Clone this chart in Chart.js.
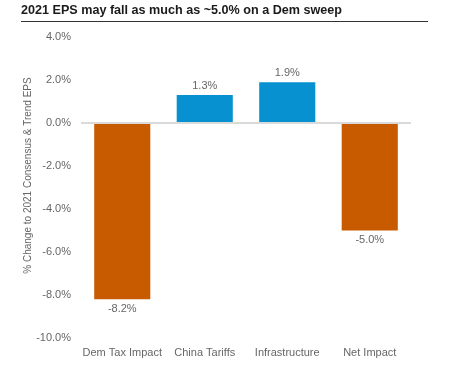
<!DOCTYPE html>
<html>
<head>
<meta charset="utf-8">
<script src="https://cdn.jsdelivr.net/npm/chart.js@4/dist/chart.umd.min.js"></script>
<style>
  html, body { margin: 0; padding: 0; background: #fff; }
  #wrap { position: relative; width: 449px; height: 370px; overflow: hidden; }
  #title {
    position: absolute; left: 21px; top: 2px; width: 407px;
    font-family: "Liberation Sans", Arial, sans-serif; font-weight: bold; font-size: 12.6px;
    color: #1a1a1a; line-height: 17px; padding-bottom: 2px; border-bottom: 1px solid #333;
    white-space: nowrap;
  }
  canvas { position: absolute; left: 0; top: 0; }
</style>
</head>
<body>
<div id="wrap">
  <canvas id="c" width="449" height="370"></canvas>
  <div id="title">2021 EPS may fall as much as ~5.0% on a Dem sweep</div>
</div>
<script>
const categories = ["Dem Tax Impact", "China Tariffs", "Infrastructure", "Net Impact"];
const values = [-8.2, 1.3, 1.9, -5.0];
const yMin = -10, yMax = 4, yStep = 2;
const yAxisTitle = "% Change to 2021 Consensus & Trend EPS";

const ORANGE = "#C85A00";
const BLUE = "#0891D0";
const TEXT = "#666666";
const FONT = "'Liberation Sans', Arial, sans-serif";

const labelPlugin = {
  id: "barLabels",
  afterDatasetsDraw(chart) {
    const ctx = chart.ctx;
    const meta = chart.getDatasetMeta(0);
    ctx.save();
    ctx.font = "11px " + FONT;
    ctx.fillStyle = TEXT;
    ctx.textAlign = "center";
    meta.data.forEach((bar, i) => {
      const v = chart.data.datasets[0].data[i];
      const txt = v.toFixed(1) + "%";
      if (v >= 0) {
        ctx.textBaseline = "bottom";
        ctx.fillText(txt, bar.x, bar.y - 4);
      } else {
        ctx.textBaseline = "top";
        ctx.fillText(txt, bar.x, bar.y + 4);
      }
    });
    ctx.restore();
  }
};

const axisTitlePlugin = {
  id: "yAxisTitle",
  afterDraw(chart) {
    const ctx = chart.ctx;
    const area = chart.chartArea;
    ctx.save();
    ctx.font = "10px " + FONT;
    ctx.fillStyle = TEXT;
    ctx.textAlign = "center";
    ctx.textBaseline = "middle";
    ctx.translate(28, (area.top + area.bottom) / 2 - 12);
    ctx.rotate(-Math.PI / 2);
    ctx.fillText(yAxisTitle, 0, 0);
    ctx.restore();
  }
};

new Chart(document.getElementById("c"), {
  type: "bar",
  data: {
    labels: categories,
    datasets: [{
      data: values,
      backgroundColor: values.map(v => v < 0 ? ORANGE : BLUE),
      barPercentage: 0.68,
      categoryPercentage: 1.0,
      borderWidth: 0
    }]
  },
  options: {
    responsive: false,
    animation: false,
    devicePixelRatio: 1,
    layout: { padding: { left: 0, right: 38, top: 37, bottom: 0 } },
    plugins: { legend: { display: false }, tooltip: { enabled: false }, title: { display: false } },
    scales: {
      x: {
        grid: { display: false, drawTicks: false },
        border: { display: false },
        ticks: { color: TEXT, font: { family: FONT, size: 11 }, padding: 8, maxRotation: 0, autoSkip: false },
        afterFit(s) { s.height = 32; }
      },
      y: {
        min: yMin, max: yMax,
        ticks: {
          stepSize: yStep, color: TEXT, font: { family: FONT, size: 11 }, padding: 10,
          callback: v => v.toFixed(1) + "%"
        },
        grid: {
          z: 1, drawTicks: false, lineWidth: 2,
          color: c => (c.tick && c.tick.value === 0) ? "#dadada" : "rgba(0,0,0,0)"
        },
        border: { display: false },
        title: { display: false },
        afterFit(s) { s.width = 81; }
      }
    }
  },
  plugins: [labelPlugin, axisTitlePlugin]
});
</script>
</body>
</html>
